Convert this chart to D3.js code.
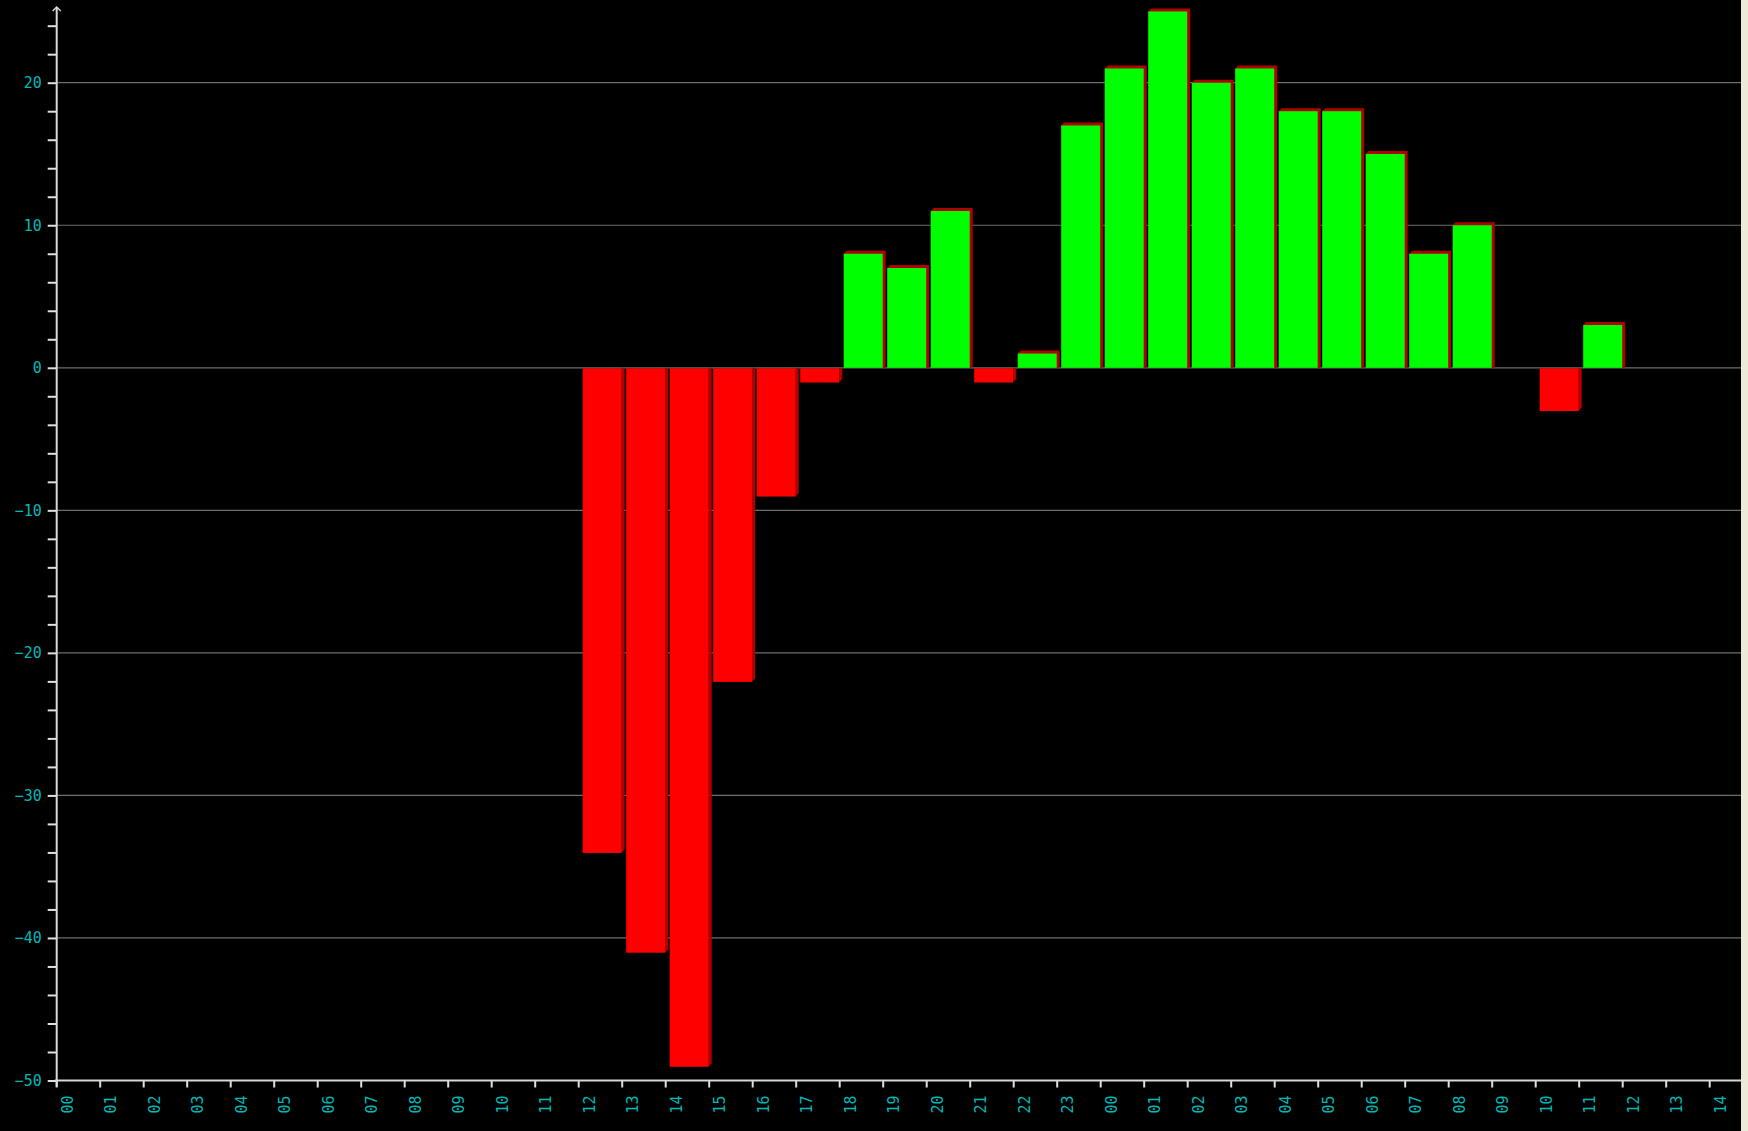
<!DOCTYPE html>
<html>
<head>
<meta charset="utf-8">
<script src="https://cdn.jsdelivr.net/npm/d3@7"></script>
<style>
  body { margin: 0; background: #ece9d8; }
  svg { display: block; }
</style>
</head>
<body>
<div id="chart"></div>
<script>
// hour labels along the bottom (two days)
const hours = ["00","01","02","03","04","05","06","07","08","09","10","11",
               "12","13","14","15","16","17","18","19","20","21","22","23",
               "00","01","02","03","04","05","06","07","08","09","10","11",
               "12","13","14"];
// one value per hour, null where there is no bar
const values = [null,null,null,null,null,null,null,null,null,null,null,null,
                -34,-41,-49,-22,-9,-1,8,7,11,-1,1,17,
                21,25,20,21,18,18,15,8,10,null,-3,3,
                null,null,null];
const gridValues = [20, 10, 0, -10, -20, -30, -40];

const W = 1748, H = 1131, plotRight = 1741;
const depth = 3;

const svg = d3.select("#chart").append("svg")
    .attr("width", W)
    .attr("height", H);

svg.append("rect")
    .attr("width", plotRight)
    .attr("height", H)
    .attr("fill", "#000");

const x = d3.scaleBand()
    .domain(d3.range(hours.length))
    .range([56.7, 56.7 + hours.length * 43.5])
    .padding(0);

const y = d3.scaleLinear()
    .domain([-50, 20])
    .range([1080.5, 82.7]);

const axisX = 56.7, axisTop = 7;

// grid lines
svg.append("g")
    .selectAll("line")
    .data(gridValues)
    .join("line")
    .attr("x1", axisX)
    .attr("x2", plotRight)
    .attr("y1", d => y(d))
    .attr("y2", d => y(d))
    .attr("stroke", "#6e6e6e")
    .attr("stroke-width", 1.2);

// bars
const bars = svg.append("g")
    .selectAll("g")
    .data(values.map((v, i) => ({ i, v })).filter(d => d.v !== null))
    .join("g");

const bw = x.bandwidth() - 4.5;

bars.append("path")
    .attr("fill", "#b00000")
    .attr("d", d => {
        const x0 = x(d.i) + 4, x1 = x0 + bw;
        const z = y(0), t = y(d.v);
        if (d.v >= 0) {
            return `M${x0},${t}L${x0 + depth},${t - depth}L${x1 + depth},${t - depth}` +
                   `L${x1 + depth},${z}L${x1},${z}Z`;
        }
        return `M${x1},${z}L${x1 + depth},${z}L${x1 + depth},${t - depth}L${x1},${t}Z`;
    });

bars.append("rect")
    .attr("x", d => x(d.i) + 4)
    .attr("width", bw)
    .attr("y", d => d.v >= 0 ? y(d.v) : y(0) + 0.5)
    .attr("height", d => Math.abs(y(d.v) - y(0)))
    .attr("fill", d => d.v >= 0 ? "#00ff00" : "#ff0000");

// y axis
const yAxis = svg.append("g")
    .attr("transform", `translate(${axisX},0)`)
    .call(d3.axisLeft(y)
        .tickValues(d3.range(-50, 25, 2))
        .tickSize(9)
        .tickPadding(6)
        .tickFormat(d => d % 10 === 0 ? d3.format("d")(d) : ""));

yAxis.select(".domain").remove();
yAxis.append("line")
    .attr("x1", 0).attr("x2", 0)
    .attr("y1", axisTop).attr("y2", y(-50) + 6)
    .attr("stroke", "#d8d8d8")
    .attr("stroke-width", 2);
yAxis.append("path")
    .attr("d", `M-4,${axisTop + 4}L0,${axisTop}L4,${axisTop + 4}`)
    .attr("fill", "none")
    .attr("stroke", "#d8d8d8")
    .attr("stroke-width", 1.5);
yAxis.selectAll(".tick line")
    .attr("stroke", "#e0e0e0")
    .attr("stroke-width", 2);
yAxis.selectAll(".tick text")
    .attr("fill", "#00b8b8")
    .style("font-family", "'DejaVu Sans Mono', monospace")
    .style("font-size", "15px");

// x axis
const xAxis = svg.append("g")
    .attr("transform", `translate(0,${y(-50)})`)
    .call(d3.axisBottom(x)
        .tickSize(7)
        .tickFormat(i => hours[i]));

xAxis.select(".domain").remove();
xAxis.append("line")
    .attr("x1", axisX - 2).attr("x2", plotRight)
    .attr("stroke", "#d8d8d8")
    .attr("stroke-width", 2);
xAxis.selectAll(".tick")
    .attr("transform", i => `translate(${x(i)},0)`);
xAxis.selectAll(".tick line")
    .attr("stroke", "#e0e0e0")
    .attr("stroke-width", 2);
xAxis.selectAll(".tick text")
    .attr("fill", "#00b8b8")
    .attr("y", 0)
    .attr("dy", null)
    .attr("text-anchor", "start")
    .attr("dominant-baseline", "central")
    .attr("transform", "translate(11,33) rotate(-90)")
    .style("font-family", "'DejaVu Sans Mono', monospace")
    .style("font-size", "15px");
</script>
</body>
</html>
